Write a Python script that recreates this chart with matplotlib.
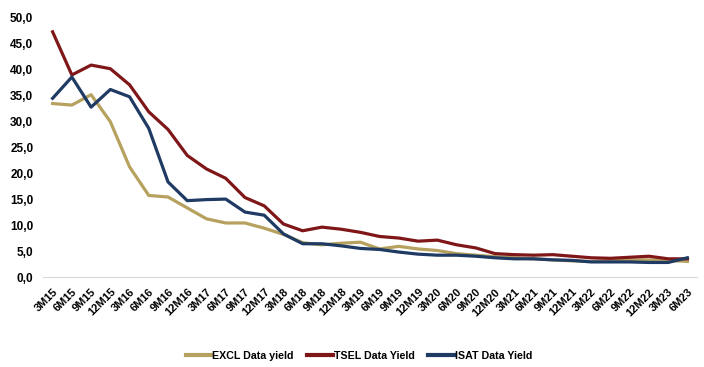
import numpy as np
import matplotlib.pyplot as plt
from matplotlib.ticker import FuncFormatter

periods = ['3M15', '6M15', '9M15', '12M15', '3M16', '6M16', '9M16', '12M16',
           '3M17', '6M17', '9M17', '12M17', '3M18', '6M18', '9M18', '12M18',
           '3M19', '6M19', '9M19', '12M19', '3M20', '6M20', '9M20', '12M20',
           '3M21', '6M21', '9M21', '12M21', '3M22', '6M22', '9M22', '12M22',
           '3M23', '6M23']

excl = [33.4, 33.1, 35.1, 29.9, 21.2, 15.7, 15.4, 13.3, 11.2, 10.4, 10.4, 9.4,
        8.2, 6.6, 6.2, 6.5, 6.7, 5.4, 5.9, 5.4, 5.1, 4.5, 4.2, 3.9,
        3.7, 3.5, 3.3, 3.1, 3.0, 3.2, 3.3, 3.3, 3.2, 3.0]
tsel = [47.2, 38.9, 40.8, 40.1, 37.0, 31.8, 28.4, 23.4, 20.8, 19.0, 15.3, 13.7,
        10.2, 8.9, 9.6, 9.2, 8.6, 7.8, 7.5, 6.9, 7.1, 6.2, 5.6, 4.5,
        4.3, 4.2, 4.3, 4.0, 3.7, 3.6, 3.8, 4.0, 3.5, 3.5]
isat = [34.4, 38.5, 32.7, 36.1, 34.7, 28.6, 18.3, 14.7, 14.9, 15.0, 12.5, 11.9,
        8.3, 6.4, 6.4, 6.0, 5.5, 5.3, 4.8, 4.4, 4.2, 4.2, 4.0, 3.7,
        3.5, 3.5, 3.3, 3.2, 2.9, 2.9, 2.9, 2.8, 2.8, 3.7]

plt.rcParams['font.family'] = ['Liberation Sans Narrow', 'Liberation Sans', 'DejaVu Sans']

fig = plt.figure(figsize=(7.04, 3.67), dpi=100)
ax = fig.add_axes([43 / 704, 1 - 277 / 367, (697 - 43) / 704, (277 - 17.3) / 367])

x = np.arange(len(periods))
ax.plot(x, excl, color='#B6A15E', lw=2.3, label='EXCL Data yield')
ax.plot(x, tsel, color='#7F1719', lw=2.3, label='TSEL Data Yield')
ax.plot(x, isat, color='#1F3A63', lw=2.3, label='ISAT Data Yield')

ax.set_xlim(-0.5, len(periods) - 0.5)
ax.set_ylim(0, 50)
ax.set_yticks(np.arange(0, 51, 5))
ax.yaxis.set_major_formatter(FuncFormatter(lambda v, p: f'{v:.1f}'.replace('.', ',')))
ax.set_xticks(x)
ax.set_xticklabels(periods, rotation=45, ha='right', rotation_mode='anchor')

for s in ['top', 'right', 'left']:
    ax.spines[s].set_visible(False)
ax.spines['bottom'].set_color('#D9D9D9')
ax.tick_params(axis='both', length=0)
ax.tick_params(axis='y', pad=7)
ax.tick_params(axis='x', pad=7)
for lbl in ax.get_yticklabels():
    lbl.set_fontweight('bold')
    lbl.set_fontsize(8.5)
for lbl in ax.get_xticklabels():
    lbl.set_fontweight('bold')
    lbl.set_fontsize(8)

leg = fig.legend(loc='center', bbox_to_anchor=(359 / 704, 1 - 356 / 367), ncol=3, frameon=False,
                 prop={'weight': 'bold', 'size': 7.7}, handlelength=2.4, columnspacing=1.25,
                 handletextpad=0.1)
for h in leg.get_lines():
    h.set_linewidth(3.0)

fig.savefig('out.png', dpi=100)
